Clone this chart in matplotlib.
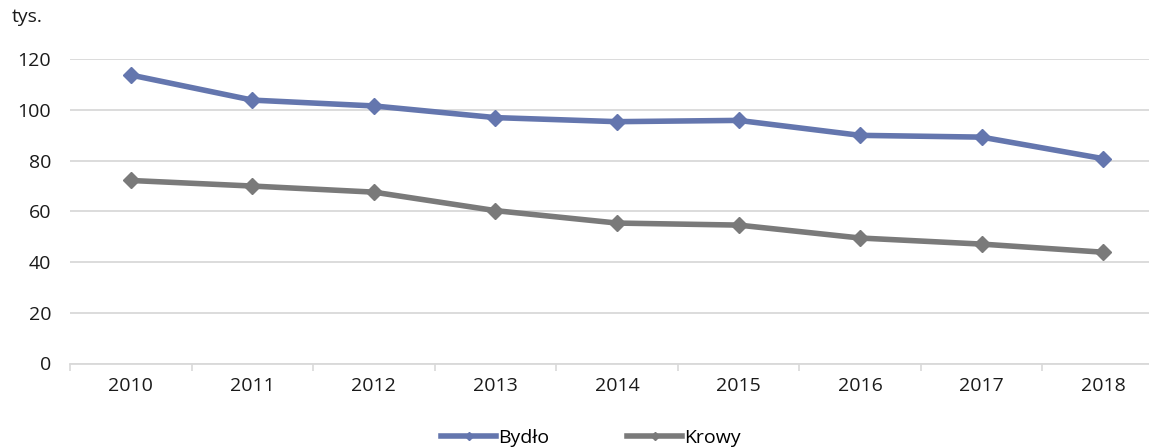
import matplotlib
matplotlib.use("Agg")
import matplotlib.pyplot as plt
from matplotlib.lines import Line2D
import numpy as np

years = ["2010", "2011", "2012", "2013", "2014", "2015", "2016", "2017", "2018"]
bydlo = [113.8, 103.9, 101.6, 97.0, 95.4, 95.9, 90.0, 89.3, 80.8]
krowy = [72.2, 70.0, 67.6, 60.3, 55.4, 54.6, 49.5, 47.1, 43.9]
yticks = [0, 20, 40, 60, 80, 100, 120]

plt.rcParams['font.family'] = ['Open Sans', 'DejaVu Sans']
FS = 14

W, H = 1149, 447
fig = plt.figure(figsize=(W/100, H/100), dpi=100)
left, right = 70/W, 1164/W
bottom, top = 1 - 363.5/H, 1 - 59.3/H
ax = fig.add_axes([left, bottom, right-left, top-bottom])

blue = "#6476ae"
gray = "#7a7a7a"
x = np.arange(len(years))
ax.plot(x, bydlo, color=blue, lw=4.0, marker='D', ms=8, zorder=3)
ax.plot(x, krowy, color=gray, lw=4.0, marker='D', ms=8, zorder=3)

ax.set_xlim(-0.5, len(years)-0.5)
ax.set_ylim(0, 120)
ax.set_yticks(yticks)
ax.set_yticklabels([str(v) for v in yticks], fontsize=FS)
ax.set_xticks(x)
ax.set_xticklabels(years, fontsize=FS)
ax.set_xticks(np.arange(-0.5, len(years), 1), minor=True)
ax.tick_params(axis='x', which='major', length=0, pad=10, colors='#1a1a1a')
ax.tick_params(axis='x', which='minor', length=5, width=1.2, color='#d9d9d9')
ax.tick_params(axis='y', length=0, pad=13.5, colors='#1a1a1a')
ax.grid(axis='y', color='#d9d9d9', lw=1.3, zorder=0)
for s in ['top', 'right', 'left']:
    ax.spines[s].set_visible(False)
ax.spines['bottom'].set_color('#d9d9d9')
ax.spines['bottom'].set_linewidth(1.3)
ax.set_axisbelow(True)

fig.text(12/W, 1 - 17/H, "tys.", fontsize=FS, va='center', ha='left', color='#1a1a1a')

handles = [Line2D([0], [0], color=blue, lw=4.0, marker='D', ms=4),
           Line2D([0], [0], color=gray, lw=4.0, marker='D', ms=4)]
fig.legend(handles, ["Bydło", "Krowy"], loc='center', bbox_to_anchor=(591/W, 1 - 438/H),
           ncol=2, frameon=False, fontsize=FS, handlelength=2.83, handletextpad=0.1,
           columnspacing=4.0)

fig.savefig("out.png", dpi=100)
